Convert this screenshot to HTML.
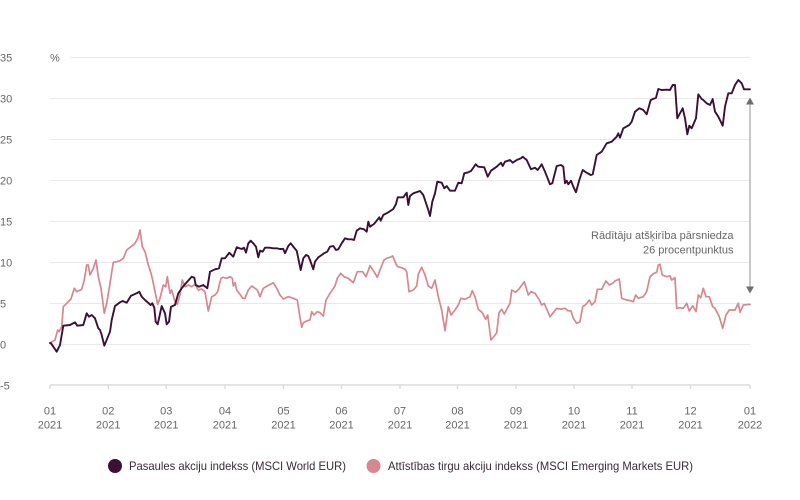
<!DOCTYPE html>
<html>
<head>
<meta charset="utf-8">
<style>
  html, body { margin: 0; padding: 0; background: #ffffff; }
  body { width: 800px; height: 500px; overflow: hidden; }
  svg { display: block; }
  text { font-family: "Liberation Sans", "DejaVu Sans", sans-serif; }
</style>
</head>
<body>
<svg width="800" height="500" viewBox="0 0 800 500" xmlns="http://www.w3.org/2000/svg">
  <rect x="0" y="0" width="800" height="500" fill="#ffffff"/>

  <!-- grid lines -->
  <g stroke="#e9e9e9" stroke-width="1">
    <line x1="70" y1="57.5" x2="750" y2="57.5"/>
    <line x1="50" y1="98.5" x2="750" y2="98.5"/>
    <line x1="50" y1="139.5" x2="750" y2="139.5"/>
    <line x1="50" y1="180.5" x2="750" y2="180.5"/>
    <line x1="50" y1="221.5" x2="750" y2="221.5"/>
    <line x1="50" y1="262.5" x2="750" y2="262.5"/>
    <line x1="50" y1="303.5" x2="750" y2="303.5"/>
    <line x1="50" y1="344.5" x2="750" y2="344.5"/>
  </g>

  <!-- x axis -->
  <g stroke="#dcdcdc" stroke-width="1.5">
    <line x1="50" y1="385" x2="750" y2="385"/>
    <line x1="50" y1="385" x2="50" y2="389"/>
    <line x1="108.3" y1="385" x2="108.3" y2="389"/>
    <line x1="166.3" y1="385" x2="166.3" y2="389"/>
    <line x1="225" y1="385" x2="225" y2="389"/>
    <line x1="283.5" y1="385" x2="283.5" y2="389"/>
    <line x1="341.5" y1="385" x2="341.5" y2="389"/>
    <line x1="400" y1="385" x2="400" y2="389"/>
    <line x1="457.5" y1="385" x2="457.5" y2="389"/>
    <line x1="516" y1="385" x2="516" y2="389"/>
    <line x1="574" y1="385" x2="574" y2="389"/>
    <line x1="632" y1="385" x2="632" y2="389"/>
    <line x1="690.5" y1="385" x2="690.5" y2="389"/>
    <line x1="750" y1="385" x2="750" y2="389"/>
  </g>

  <!-- y labels -->
  <g font-size="11" fill="#666666">
    <text x="0" y="61.5">35</text>
    <text x="0" y="102.5">30</text>
    <text x="0" y="143.5">25</text>
    <text x="0" y="184.5">20</text>
    <text x="0" y="225.5">15</text>
    <text x="0" y="266.5">10</text>
    <text x="0" y="307.5">5</text>
    <text x="0" y="348.5">0</text>
    <text x="0" y="389.5">-5</text>
    <text x="50" y="61.5">%</text>
  </g>

  <!-- x labels -->
  <g font-size="11" fill="#666666" text-anchor="middle">
    <text x="50" y="414.5">01</text><text x="50" y="428.5">2021</text>
    <text x="108.3" y="414.5">02</text><text x="108.3" y="428.5">2021</text>
    <text x="166.3" y="414.5">03</text><text x="166.3" y="428.5">2021</text>
    <text x="225" y="414.5">04</text><text x="225" y="428.5">2021</text>
    <text x="283.5" y="414.5">05</text><text x="283.5" y="428.5">2021</text>
    <text x="341.5" y="414.5">06</text><text x="341.5" y="428.5">2021</text>
    <text x="400" y="414.5">07</text><text x="400" y="428.5">2021</text>
    <text x="457.5" y="414.5">08</text><text x="457.5" y="428.5">2021</text>
    <text x="516" y="414.5">09</text><text x="516" y="428.5">2021</text>
    <text x="574" y="414.5">10</text><text x="574" y="428.5">2021</text>
    <text x="632" y="414.5">11</text><text x="632" y="428.5">2021</text>
    <text x="690.5" y="414.5">12</text><text x="690.5" y="428.5">2021</text>
    <text x="750" y="414.5">01</text><text x="750" y="428.5">2022</text>
  </g>

  <!-- annotation arrow -->
  <line x1="750" y1="102" x2="750" y2="289" stroke="#c8c8c8" stroke-width="2"/>
  <polygon points="750,97.5 746,104.5 754,104.5" fill="#6e6e6e"/>
  <polygon points="750,293.5 746,286.5 754,286.5" fill="#6e6e6e"/>
  <g font-size="11" fill="#666666" text-anchor="end">
    <text x="733.5" y="239">Rādītāju atšķirība pārsniedza</text>
    <text x="733.5" y="253.5">26 procentpunktus</text>
  </g>

  <!-- pink series: Emerging Markets -->
  <polyline fill="none" stroke="#d6878f" stroke-width="1.7" stroke-linejoin="round" stroke-linecap="round"
    points="50,343 55,340 57.7,330 59,331.7 61.7,326.7 63.3,306.7 68.3,301.7 71,299 74.3,288.3 76.7,291.7 81.7,289.3 84.3,280 86.7,265 88.3,265 90,275 93.3,268.3 96,260 98.3,276.7 101,288.3 104.3,313.3 106.7,303.3 110,283.3 113.3,262.3 116.7,261.7 120,260.7 123.3,258.3 126.7,250 131,246.7 135,243.3 137.7,238.3 140,230 142.3,246.7 145,251.7 148.3,265 151,273.3 152.3,278.3 155,291.7 157.7,304.3 160,298.3 163.3,285 165.7,286.7 167.3,276.7 170,293.3 171.7,290 175,301.7 177.3,304.3 180,295 182.3,280 185,286.7 188.3,285 191.7,286.7 195,284.3 198.3,290 201.7,289 205,291.7 206.7,301.7 208.3,311 211.7,296.7 215,295 217.7,291.7 219,286 221,278.3 222.7,277.3 226.7,278.3 230,276.7 232.3,278.3 233.3,286 235,282.7 236.7,290 239.3,293.3 242.7,298.3 245,298.3 248.3,290 251.7,286 255,288.3 257.3,290 260,296.7 263.3,288.3 267.3,286 273.3,282.7 276.7,288.3 280,295 283.3,299 288.3,296.7 293.3,298.3 297.3,300 299.3,313.3 301.7,327.3 303.3,322.7 307.3,320.7 310,320 311.7,311.7 314,315 317.3,311.7 320,312.7 323.3,316 326,300 330,293.3 335,286 337.3,278.3 340.7,273.3 344,276.7 348.3,278.3 353.3,282.7 357.3,271.7 362.7,271.7 366,276.7 370,265.7 374,271.7 377.3,277.3 380,270 384,260 386.7,258.3 390,257.3 392.7,256 396,264 397.7,266.7 401.7,267.7 405,269.3 406.7,271.7 409,291.7 413.3,290 416.7,286 418.3,274.3 421.7,267.3 425,275 428.3,286 431.7,288.3 435,280 438.3,296.7 441.7,310 445,330.7 448.3,306.7 451,315 455,310 458.3,305 461,298.3 465,299.3 470,296.7 472.3,290.7 475,296.7 478.3,309.3 482.3,312.7 485.7,319.3 487.7,315 491,340 494.3,336 496.7,332.7 499,312.7 501.7,309.3 504.3,314 506.7,309.3 510,303.3 511.7,290 515.7,292.3 519,289 524.3,281.7 528.3,295 531,291.7 535,293.3 539,299.3 541.7,305 544.3,303.3 550,316.7 553.3,312.7 556.7,308.3 561,309.3 565,308.3 567.7,310.7 571,311 573.3,318.3 576.7,323.3 580,321.7 582.7,306.7 586,304.3 589.3,300 591.7,305 595,301.7 597.3,289.3 601.7,289.3 606,281 609.3,285 612.7,283.3 615,281 619.3,279 621.7,298.3 626.7,300 631.7,301 633.3,301.7 635.7,295 638.3,298.3 643.3,296.7 646.7,291.7 650,276.7 654,273.3 656.7,272.3 658.3,265 660,264.3 662.3,275 666.7,276.7 670,276 671.7,280 675,277.7 676.7,308.3 680,307.7 683.3,308.3 686.7,303.3 689.3,311 692.7,305.7 696,311.7 698.3,295 700.7,297.7 703.3,288.3 706,296.7 709.3,296.7 712.7,306.7 715,308.3 719.3,316.7 722.7,328.3 726,315 729.3,310 735,310 738.3,303.3 740,312.3 743.3,305 750,304.3"/>

  <!-- dark series: World -->
  <polyline fill="none" stroke="#3a1034" stroke-width="1.9" stroke-linejoin="round" stroke-linecap="round"
    points="50,343 51,343.3 56.7,351.7 60,345 63.3,325.7 70,325 75,322.3 77.3,325.7 83.3,325 86.7,313.3 89,316.7 91.7,315 95,318.3 98.3,328.3 100,330 101.7,335 104.3,345.7 107.3,338.3 110,331.7 111.7,320 115,306 120,302.3 122.7,301 126.7,302.7 131,295.7 136.7,293.3 139.3,291.7 141.7,296.7 145,300 150.7,305 152.3,303.3 154.3,307.7 155.7,321.7 157.7,324.3 161.7,306 165,313.3 166.7,324.3 169,321.7 171,306.7 175,305 178.3,293.3 181.7,288.3 184.3,285 191.7,276.7 194.3,277.7 195.7,285 199,286.7 203.3,285 207.3,288.3 210,271.7 215,269.3 219,268.3 221.7,258.3 225,258.3 229.3,252.7 233.3,256.7 236.7,247.3 241.7,249 244,247.7 246,252.7 248.3,243.3 250.7,240.7 253.3,243.3 256,246.7 258.3,257.3 260,250.7 262.7,251.7 265,247.7 269.3,247.7 273.3,248.3 276.7,248.3 280,249 283.3,249 285,253.3 288.3,246 290.7,243.3 293.3,246.7 296.7,250.7 298.3,258.3 300.7,270 303.3,258.3 306,255 308.3,256 310,260 313.3,269.3 315,261.7 318.3,257.3 321.7,255 324,253.3 327.3,251.7 330,246.7 333.3,246 336,250 338.3,249.3 341.7,243.3 345,238.3 348.3,239.3 351.7,239.3 354,240 356.7,230.7 360,228.3 364,229.3 366.7,231.7 368.3,221.7 370,226.7 374,224 376.7,220.7 379.3,217.3 380.7,220.7 383.3,215 388.3,212.3 393.3,209 396,204 397.7,197.3 403.3,197.3 406.7,192.7 408.3,205 410,196 413.3,193.3 420,191 423.3,195 428.3,210 430,216 432.3,201.7 435,193.3 437.3,181.7 441.7,182.7 444.3,188.3 446.7,186 450,190.7 455,190.7 458.3,182.7 461.7,183.3 464.3,173.3 468.3,172.3 471,171 475.7,164.3 478.3,166.7 484.3,167.3 487.7,176.7 491,170.7 496.7,166.7 501,162.7 502.7,166 505,161.7 510,160 512.7,162.7 516.7,160 521,158.3 522.7,156.7 526.7,160 531,169.3 535,167.7 537.7,170 541.7,164.3 545,171.7 550,184.3 552.3,183.3 556.7,166 561,165 563.3,166.7 565,183.3 566.7,180.7 568.3,184.3 571,180.7 573.3,186.7 576,192.3 579.3,180 582.7,170 586,172.3 590.7,175 592.7,174.3 596.7,155 601.7,151.7 606.7,143.3 611.7,141.7 616.7,136.7 618.3,133.3 620,137.7 623.3,128.3 629.3,125 631.7,121.7 635,111.7 639.3,108.3 643.3,110 646.7,114.3 650.7,100 656,97.7 658.3,89 661.7,90 666.7,89.7 670,90 672.7,85 675,85 677.3,118.3 680,113.3 682.7,108.3 685,118.3 687.3,134.3 689.3,125.7 691.7,128.3 696,118.3 698.3,94.3 701.7,99 703.3,100 706.7,103.3 710,105 712.7,99 715,111.7 718.3,116.7 722.7,125.7 725,106.7 728.3,93.3 731.7,93.3 735,85 738.3,80 741.7,83.3 744,89.3 750,89.3"/>

  <!-- legend -->
  <circle cx="115" cy="466" r="7" fill="#3a1034"/>
  <text x="129" y="470" font-size="12" fill="#3a2a36" textLength="217" lengthAdjust="spacingAndGlyphs">Pasaules akciju indekss (MSCI World EUR)</text>
  <circle cx="373.5" cy="466" r="7" fill="#d6878f"/>
  <text x="388" y="470" font-size="12" fill="#3a2a36" textLength="305" lengthAdjust="spacingAndGlyphs">Attīstības tirgu akciju indekss (MSCI Emerging Markets EUR)</text>
</svg>
</body>
</html>
